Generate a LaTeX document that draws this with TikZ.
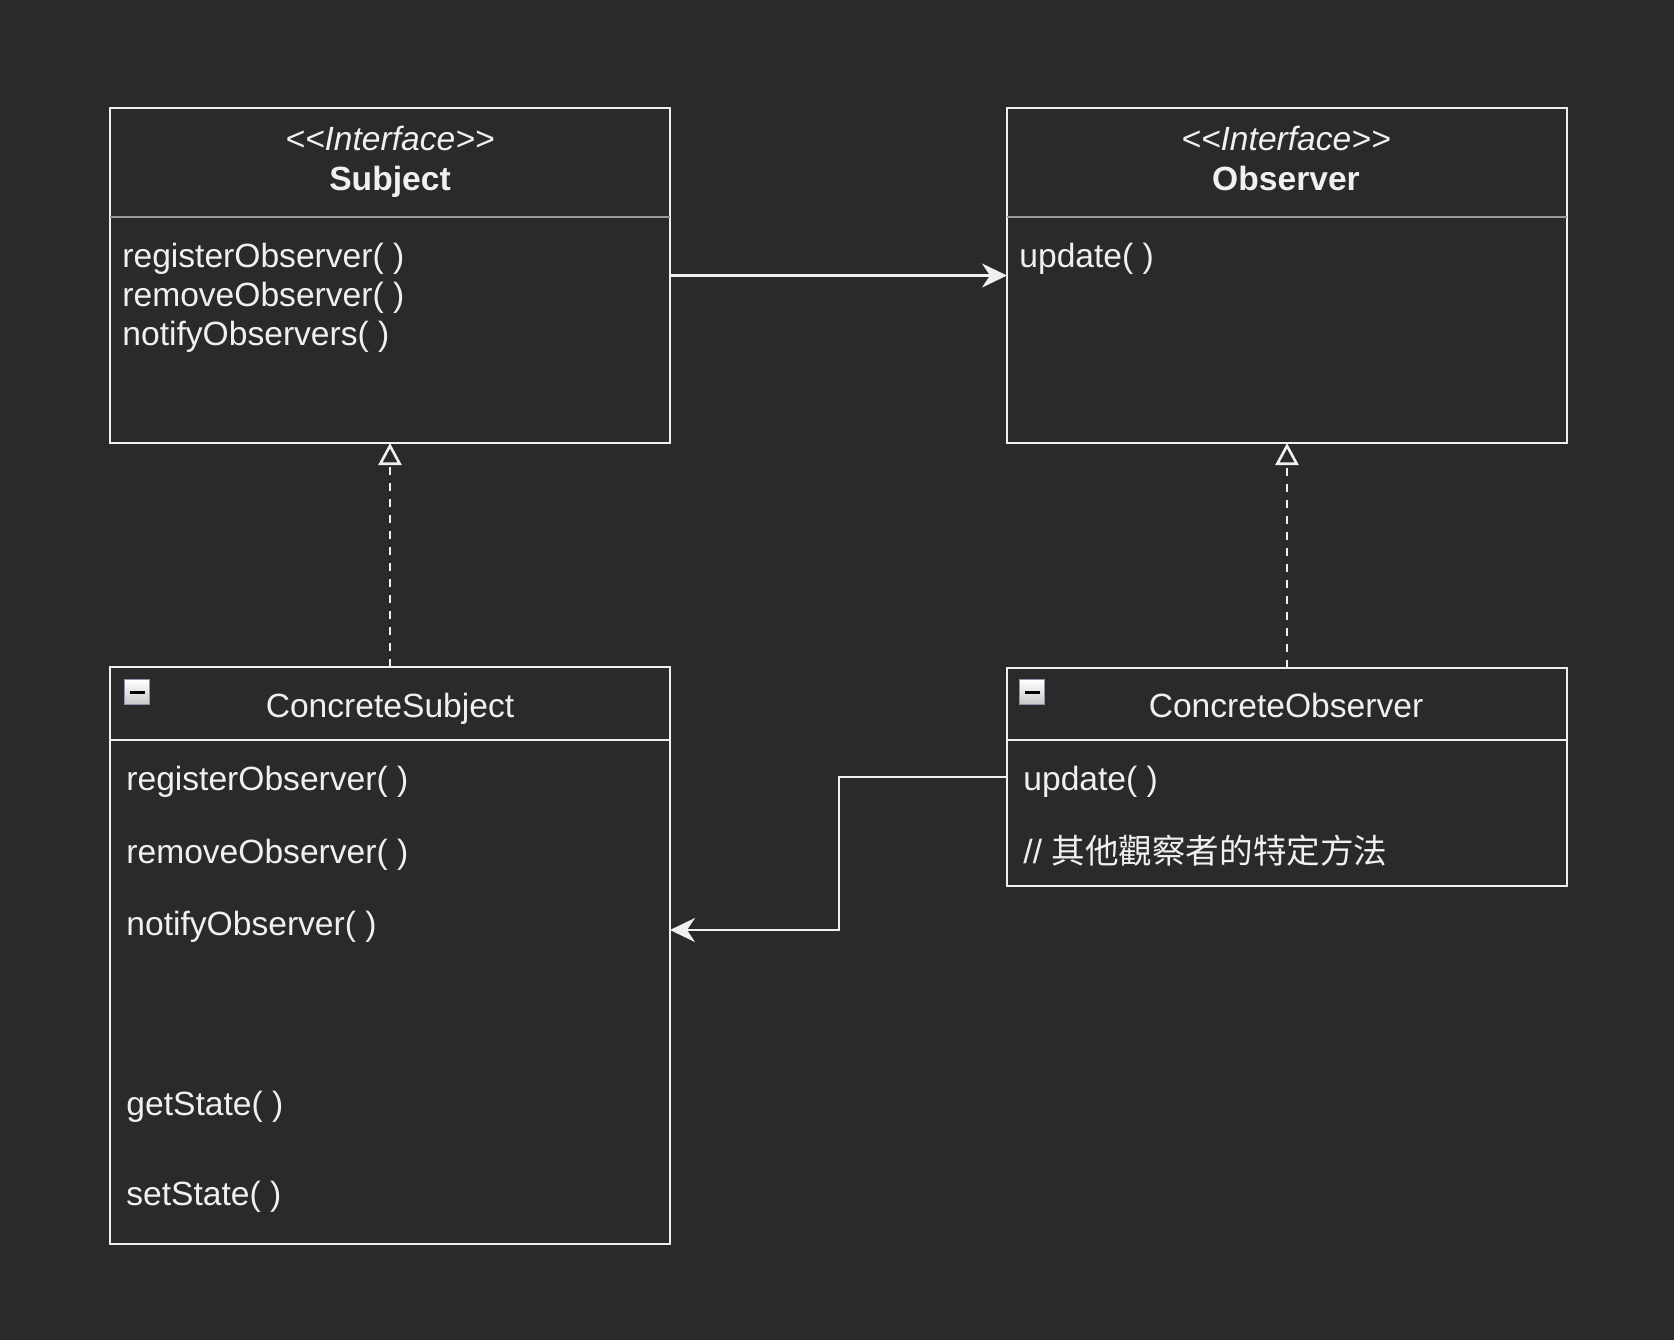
\documentclass[tikz,border=0pt]{standalone}
\usepackage{fontspec}
\setmainfont{Liberation Sans}
\newfontfamily\cjk{Noto Sans CJK TC}
\usetikzlibrary{arrows.meta}

\definecolor{bgcol}{HTML}{2A2A2A}
\definecolor{linecol}{HTML}{F0F0F0}
\definecolor{sepcol}{HTML}{9A9A9A}
\definecolor{iconframe}{HTML}{8C95A8}

\tikzset{
    umlbox/.style={draw=linecol, line width=1.3pt, anchor=north west,
        minimum width=280pt, inner sep=0pt, outer sep=0pt},
    txt/.style={text=linecol, font=\fontsize{16.8pt}{20pt}\selectfont,
        inner sep=0pt, anchor=base west},
    title/.style={txt, anchor=base},
    minusicon/.style={anchor=north west, minimum size=12.5pt, inner sep=0pt,
        draw=iconframe, line width=0.7pt, top color=white, bottom color=black!22,
        path picture={\draw[black, line width=1.4pt]
            ([xshift=2.6pt]path picture bounding box.west) --
            ([xshift=-2.6pt]path picture bounding box.east);}},
    assoc/.style={draw=linecol, line width=1.3pt,
        -{Stealth[length=12.5pt, width=12pt, inset=4pt]}},
    impl/.style={draw=linecol, line width=1.3pt, dash pattern=on 4pt off 4pt,
        -{Triangle[open, length=11pt, width=11.5pt, fill=bgcol]}}
}

\begin{document}
\begin{tikzpicture}[x=0.5pt, y=-0.5pt]
    \fill[bgcol] (0,0) rectangle (1674,1340);
    \useasboundingbox (0,0) rectangle (1674,1340);

    % Subject interface
    \node[umlbox, minimum height=167.5pt] (sub) at (110,108) {};
    \draw[sepcol, line width=1.3pt] (sub.west |- 0,217) -- (sub.east |- 0,217);
    \node[title] (subtag) at (390,150) {\itshape <\kern0pt<Interface>\kern0pt>};
    \node[title] (subname) at (390,190) {\bfseries Subject};
    \node[txt] (subreg) at (122,267) {registerObserver( )};
    \node[txt] (subrem) at (122,306) {removeObserver( )};
    \node[txt] (subnot) at (122,345) {notifyObservers( )};

    % Observer interface
    \node[umlbox, minimum height=167.5pt] (obs) at (1007,108) {};
    \draw[sepcol, line width=1.3pt] (obs.west |- 0,217) -- (obs.east |- 0,217);
    \node[title] (obstag) at (1286,150) {\itshape <\kern0pt<Interface>\kern0pt>};
    \node[title] (obsname) at (1286,190) {\bfseries Observer};
    \node[txt] (obsupd) at (1019,267) {update( )};

    % ConcreteSubject class
    \node[umlbox, minimum height=288.5pt] (csub) at (110,667) {};
    \draw[linecol, line width=1.3pt] (csub.west |- 0,740) -- (csub.east |- 0,740);
    \node[minusicon] (csubicon) at (124,679) {};
    \node[title] (csubname) at (390,717) {ConcreteSubject};
    \node[txt] (csubreg) at (126,790) {registerObserver( )};
    \node[txt] (csubrem) at (126,863) {removeObserver( )};
    \node[txt] (csubnot) at (126,935) {notifyObserver( )};
    \node[txt] (csubget) at (126,1115) {getState( )};
    \node[txt] (csubset) at (126,1205) {setState( )};

    % ConcreteObserver class
    \node[umlbox, minimum height=109pt] (cobs) at (1007,668) {};
    \draw[linecol, line width=1.3pt] (cobs.west |- 0,740) -- (cobs.east |- 0,740);
    \node[minusicon] (cobsicon) at (1019,679) {};
    \node[title] (cobsname) at (1286,717) {ConcreteObserver};
    \node[txt] (cobsupd) at (1023,790) {update( )};
    \node[txt] (cobsnote) at (1023,863) {// {\cjk 其他觀察者的特定方法}};

    % connectors
    \coordinate (elbow) at (839,777);
    \coordinate (csubin) at (670,930);
    \draw[assoc] (sub.east) -- (obs.west);
    \draw[impl] (csub.north) -- (sub.south);
    \draw[impl] (cobs.north) -- (obs.south);
    \draw[assoc] (cobs.west) -- (elbow) |- (csubin);
\end{tikzpicture}
\end{document}
